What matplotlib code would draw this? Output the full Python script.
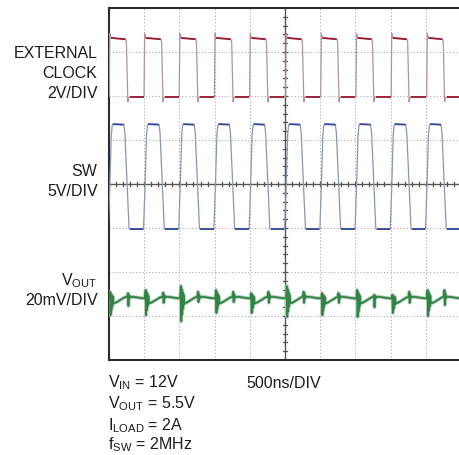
import matplotlib
matplotlib.use('Agg')
import matplotlib.pyplot as plt

# ---------------- data (in divisions) ----------------
# time axis: 10 divisions (500ns/DIV), vertical: 8 divisions
clock_rise = [0.01, 1.00, 2.00, 3.00, 4.00, 5.02, 6.02, 7.02, 8.02, 9.03]
clock_fall = [0.50, 1.50, 2.49, 3.49, 4.48, 5.50, 6.50, 7.49, 8.49, 9.50]
clock_high = 7.31
clock_low = 5.98
clock_overshoot = 7.42
clock_undershoot = 5.87

sw_rise = [-0.02, 0.98, 1.98, 2.98, 3.98, 4.99, 5.99, 6.99, 7.99, 8.99]
sw_fall = [0.43, 1.43, 2.43, 3.43, 4.43, 5.44, 6.44, 7.44, 8.44, 9.44]
sw_high = 5.36
sw_low = 2.97

vout_spike_t = [0.03, 1.04, 2.04, 3.04, 4.04, 5.05, 6.05, 7.05, 8.05, 9.05]
vout_big_top = [1.55, 1.59, 1.68, 1.59, 1.52, 1.68, 1.52, 1.59, 1.48, 1.59]
vout_big_bot = [1.02, 1.02, 0.88, 1.07, 1.07, 0.98, 1.02, 0.98, 1.07, 1.00]
vout_small_t = [0.54, 1.54, 2.53, 3.53, 4.53, 5.53, 6.52, 7.53, 8.53, 9.53]
vout_small_top = [1.52, 1.53, 1.55, 1.55, 1.55, 1.55, 1.52, 1.48, 1.55, 1.59]
vout_small_bot = [1.23, 1.30, 1.32, 1.32, 1.30, 1.30, 1.30, 1.20, 1.30, 1.25]
vout_after_spike = 1.29
vout_mid = 1.44
vout_before_spike = 1.40

left_labels = [("EXTERNAL", 57.5), ("CLOCK", 77.5), ("2V/DIV", 97.5),
               ("SW", 176.5), ("5V/DIV", 196.5),
               (r"V$_{\mathrm{OUT}}$", 285.0), ("20mV/DIV", 305.0)]
bottom_labels = [(r"V$_{\mathrm{IN}}$ = 12V", 387.5),
                 (r"V$_{\mathrm{OUT}}$ = 5.5V", 408.5),
                 (r"I$_{\mathrm{LOAD}}$ = 2A", 430.0),
                 (r"f$_{\mathrm{SW}}$ = 2MHz", 449.5)]
timebase_label = "500ns/DIV"

# ---------------- style ----------------
FONT = ['Liberation Sans', 'DejaVu Sans']
plt.rcParams['font.family'] = FONT
plt.rcParams['mathtext.fontset'] = 'custom'
plt.rcParams['mathtext.rm'] = 'Liberation Sans'
plt.rcParams['mathtext.it'] = 'Liberation Sans:italic'
plt.rcParams['mathtext.bf'] = 'Liberation Sans:bold'
FS = 11.5
TXT = '#1f1c1d'

W, H = 459, 455
fig = plt.figure(figsize=(W / 100, H / 100), dpi=100)
L, T, B, R = 109, 8, 360, 461
ax = fig.add_axes([L / W, 1 - B / H, (R - L) / W, (B - T) / H])
ax.set_xlim(0, 10)
ax.set_ylim(0, 8)
ax.set_xticks([])
ax.set_yticks([])
for s in ['left', 'top', 'bottom']:
    ax.spines[s].set_color('#2b2b2b')
    ax.spines[s].set_linewidth(1.5)
ax.spines['right'].set_visible(False)

# graticule
gkw = dict(color='#9a9a9a', lw=0.7, ls=(0, (1, 2.4)), zorder=1)
for i in range(1, 10):
    if i != 5:
        ax.axvline(i, **gkw)
for j in range(1, 8):
    if j != 4:
        ax.axhline(j, **gkw)
ax.axvline(5, color='#555555', lw=1.0, zorder=1)
ax.axhline(4, color='#555555', lw=1.0, zorder=1)
for k in range(1, 50):
    t = k * 0.2
    ax.plot([t, t], [4 - 0.055, 4 + 0.055], color='#555555', lw=0.9, zorder=1)
for k in range(1, 40):
    v = k * 0.2
    ax.plot([5 - 0.065, 5 + 0.065], [v, v], color='#555555', lw=0.9, zorder=1)

# external clock trace
cx, cy = [-0.1], [clock_low]
plateaus = []
for r, f in zip(clock_rise, clock_fall):
    cx += [r - 0.005, r + 0.012, r + 0.045, f - 0.03, f - 0.005, f + 0.035, f + 0.055, f + 0.09]
    cy += [clock_low, clock_overshoot, clock_high + 0.01, clock_high - 0.02,
           clock_high - 0.08, clock_undershoot, clock_low - 0.03, clock_low]
    plateaus.append(([r + 0.045, f - 0.03], [clock_high + 0.01, clock_high - 0.02]))
    plateaus.append(([f + 0.09, r + 0.98], [clock_low, clock_low]))
cx.append(10.2)
cy.append(clock_low)
ax.plot(cx, cy, color='#b39299', lw=0.9, zorder=3, solid_joinstyle='round')
for px, py in plateaus:
    ax.plot(px, py, color='#9a1a30', lw=1.3, zorder=4, solid_capstyle='butt')

# SW trace
sx, sy = [-0.2], [sw_low]
splat = []
for r, f in zip(sw_rise, sw_fall):
    sx += [r, r + 0.04, r + 0.085, r + 0.11, r + 0.13, f - 0.01, f + 0.02, f + 0.14, f + 0.16]
    sy += [sw_low, sw_low + 0.9, sw_high - 0.25, sw_high - 0.04, sw_high,
           sw_high - 0.01, sw_high - 0.2, sw_low + 0.02, sw_low]
    splat.append(([r + 0.13, f - 0.01], [sw_high, sw_high - 0.01]))
    splat.append(([f + 0.16, r + 0.99], [sw_low, sw_low]))
sx.append(10.2)
sy.append(sw_low)
ax.plot(sx, sy, color='#8c95b5', lw=0.9, zorder=3, solid_joinstyle='round')
for px, py in splat:
    ax.plot(px, py, color='#34489a', lw=1.3, zorder=4, solid_capstyle='butt')

# VOUT trace
decay = [1.0, 1.0, 0.75, 0.7, 0.5, 0.45, 0.3, 0.25]
vx, vy = [-0.05], [vout_before_spike]
for i in range(10):
    ts = vout_spike_t[i]
    top, bot = vout_big_top[i], vout_big_bot[i]
    base = vout_before_spike
    vx.append(ts - 0.02)
    vy.append(base)
    for j, d in enumerate(decay):
        vx.append(ts + j * 0.013)
        vy.append(base + d * ((top - base) if j % 2 == 0 else (bot - base)))
    vx += [ts + 0.12, ts + 0.2, ts + 0.3, ts + 0.4]
    vy += [vout_after_spike, vout_after_spike + 0.03, vout_after_spike + 0.08, vout_mid - 0.02]
    tm = vout_small_t[i]
    vx += [tm - 0.02, tm, tm + 0.012, tm + 0.025, tm + 0.04, tm + 0.06]
    vy += [vout_mid, vout_small_top[i], vout_small_bot[i],
           vout_mid + 0.5 * (vout_small_top[i] - vout_mid), vout_mid - 0.04, vout_mid]
    vx += [tm + 0.2, tm + 0.35, tm + 0.47]
    vy += [vout_mid - 0.01, vout_mid - 0.03, vout_before_spike]
vx.append(10.2)
vy.append(vout_mid)
ax.plot(vx, vy, color='#b3c6b7', lw=2.6, zorder=3, solid_joinstyle='round')
ax.plot(vx, vy, color='#2e8544', lw=1.3, zorder=4, solid_joinstyle='round')

# ---------------- text ----------------
for s, yb in left_labels:
    fig.text(97.5 / W, 1 - yb / H, s, ha='right', va='baseline', fontsize=FS, color=TXT)
for s, yb in bottom_labels:
    fig.text(108.5 / W, 1 - yb / H, s, ha='left', va='baseline', fontsize=FS, color=TXT)
fig.text(246.5 / W, 1 - 387.5 / H, timebase_label, ha='left', va='baseline', fontsize=FS, color=TXT)

fig.savefig('out.png', dpi=100)
